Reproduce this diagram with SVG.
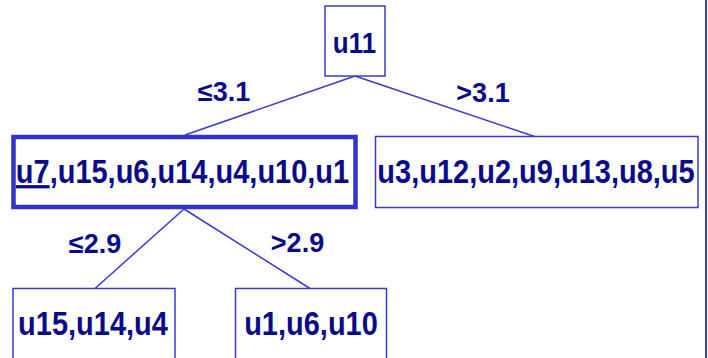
<svg xmlns="http://www.w3.org/2000/svg" width="708" height="358" viewBox="0 0 708 358">
  <style>
    .box { fill: #ffffff; stroke: #3a3acc; stroke-width: 1.5; }
    .box-sel { fill: #ffffff; stroke: #3333cc; stroke-width: 4.5; }
    .edge { stroke: #3a3acc; stroke-width: 1.5; fill: none; }
    .lbl { font-family: "Liberation Sans", Arial, sans-serif; font-weight: bold; fill: #0a0a8a; text-anchor: middle; }
    .node-t { font-size: 29px; }
    .root-t { font-size: 26px; }
    .edge-t { font-size: 27px; }
  </style>

  <rect width="708" height="358" fill="#ffffff"/>

  <!-- connectors -->
  <g id="connectors">
    <line class="edge" x1="355" y1="76" x2="185" y2="135"/>
    <line class="edge" x1="355" y1="76" x2="536" y2="137"/>
    <line class="edge" x1="184" y1="209" x2="95" y2="288.5"/>
    <line class="edge" x1="184" y1="209" x2="310" y2="288.5"/>
    <text class="lbl edge-t" x="224" y="101">≤3.1</text>
    <text class="lbl edge-t" x="483" y="102">&gt;3.1</text>
    <text class="lbl edge-t" x="95" y="253">≤2.9</text>
    <text class="lbl edge-t" x="297.5" y="252">&gt;2.9</text>
  </g>

  <!-- root split -->
  <g id="node-root">
    <rect class="box" x="325" y="6" width="60" height="70"/>
    <text class="lbl root-t" transform="translate(354.5 53) scale(1 1.12)">u11</text>
  </g>

  <!-- left subset (selected) -->
  <g id="node-left">
    <rect class="box-sel" x="13.5" y="137" width="342" height="70"/>
    <text class="lbl node-t" transform="translate(182.5 183) scale(1 1.12)"><tspan text-decoration="underline">u7</tspan>,u15,u6,u14,u4,u10,u1</text>
  </g>

  <!-- right subset -->
  <g id="node-right">
    <rect class="box" x="375.5" y="136.5" width="322.5" height="71"/>
    <text class="lbl node-t" transform="translate(536 183) scale(1 1.12)">u3,u12,u2,u9,u13,u8,u5</text>
  </g>

  <!-- left-left subset -->
  <g id="node-left-left">
    <rect class="box" x="13" y="288.5" width="162" height="80"/>
    <text class="lbl node-t" transform="translate(93 335) scale(1 1.12)">u15,u14,u4</text>
  </g>

  <!-- left-right subset -->
  <g id="node-left-right">
    <rect class="box" x="235.5" y="288.5" width="151" height="80"/>
    <text class="lbl node-t" transform="translate(311 335) scale(1 1.12)">u1,u6,u10</text>
  </g>

  <!-- right border rule -->
  <line x1="706" y1="0" x2="706" y2="358" stroke="#3a3acc" stroke-width="2"/>
</svg>
